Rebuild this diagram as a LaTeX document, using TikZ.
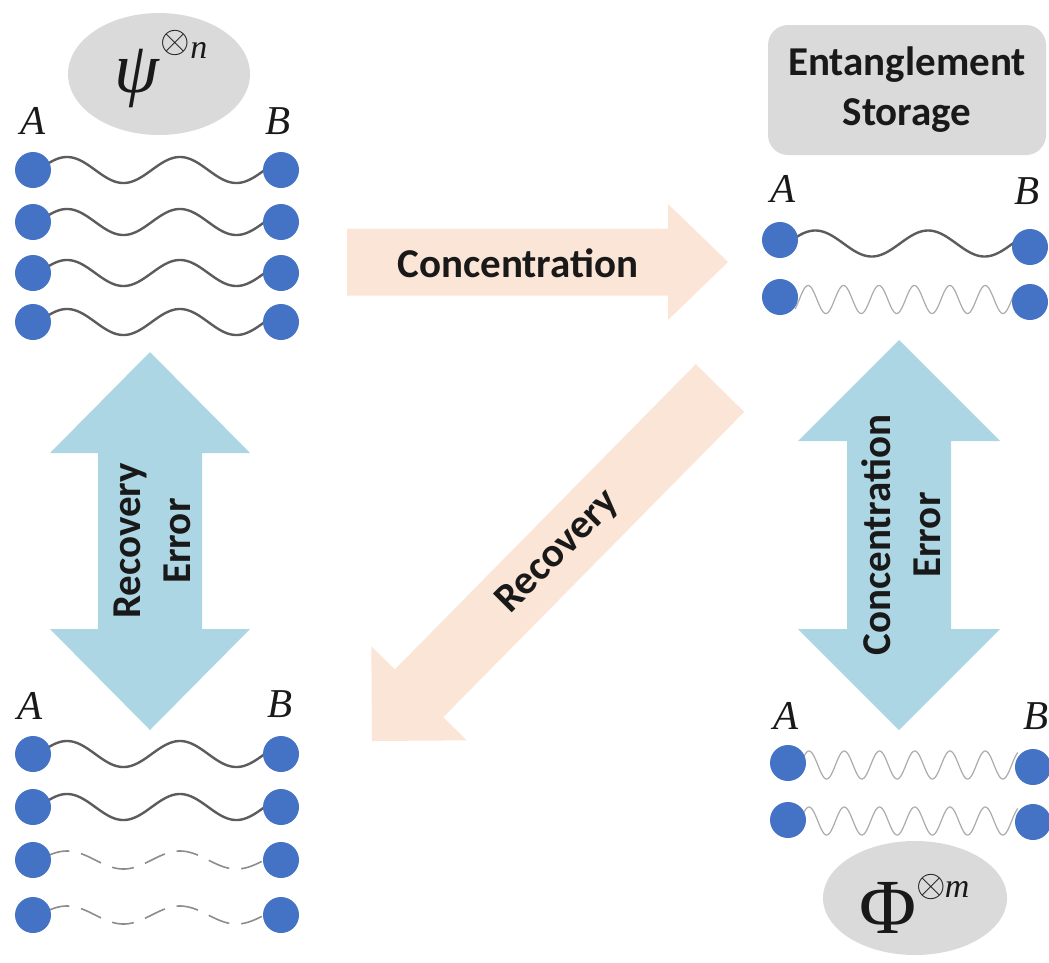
\RequirePackage{fix-cm}
\documentclass[tikz,border=0pt]{standalone}
\usepackage{fontspec}
\setmainfont{Carlito}
\newfontfamily\tms{Liberation Serif}
\usetikzlibrary{calc,shapes.geometric}
\definecolor{dotblue}{RGB}{68,114,196}
\definecolor{peach}{RGB}{251,229,214}
\definecolor{lblue}{RGB}{173,214,228}
\definecolor{shade}{RGB}{218,218,218}
\definecolor{ink}{RGB}{25,25,25}
\pgfdeclarelayer{bg}
\pgfsetlayers{bg,main}
\newcommand\blockarrow[6]{%
  \path ($(#2)!#5!(#1)$) coordinate (bahb);
  \fill[#6] ($(#1)!#3!90:(#2)$) -- ($(bahb)!#3!90:(#2)$) -- ($(bahb)!#4!90:(#2)$) -- (#2)
    -- ($(bahb)!#4!-90:(#2)$) -- ($(bahb)!#3!-90:(#2)$) -- ($(#1)!#3!-90:(#2)$) -- cycle;}
\newcommand\dblarrow[6]{%
  \path ($(#1)!#5!(#2)$) coordinate (dahA) ($(#2)!#5!(#1)$) coordinate (dahB);
  \fill[#6] (#1) -- ($(dahA)!#4!90:(#2)$) -- ($(dahA)!#3!90:(#2)$) -- ($(dahB)!#3!-90:(#1)$)
    -- ($(dahB)!#4!-90:(#1)$) -- (#2) -- ($(dahB)!#4!90:(#1)$) -- ($(dahB)!#3!90:(#1)$)
    -- ($(dahA)!#3!-90:(#2)$) -- ($(dahA)!#4!-90:(#2)$) -- cycle;}
\newcommand\wave[7]{%
  \draw[#1] let \p1=(#2.center), \p2=(#3.center) in
    plot[variable=\t, domain=0:1, samples=240, smooth]
    ({\x1+#7+(\x2-\x1-2*#7)*\t}, {(\y1+\y2)/2+#6*cos(360*(#4*\t-#5))});}
\newcommand\otim[1]{\raisebox{#1}{\fontsize{38}{40}\selectfont$\otimes$}}
\tikzset{
  dot/.style={circle, fill=dotblue, minimum size=36pt, inner sep=0pt},
  strong/.style={draw=black!64, line width=2.4pt},
  faint/.style={draw=black!45, line width=1.6pt, dash pattern=on 22pt off 12pt},
  zig/.style={draw=black!33, line width=1.2pt},
  lbl/.style={text=ink, font=\fontsize{41}{50}\selectfont\bfseries, inner sep=0pt, align=center},
  ablbl/.style={text=ink, font=\tms\itshape\fontsize{41}{46}\selectfont, inner sep=0pt},
  blob/.style={ellipse, fill=shade, inner sep=0pt},
  symlbl/.style={text=ink, inner sep=0pt, anchor=base west, font=\tms},
}
\begin{document}
\begin{tikzpicture}[x=1pt, y=-1pt]
\useasboundingbox (0,0) rectangle (1049,962);

% block arrows
\coordinate (concTail) at (347,262);
\coordinate (concTip) at (728,262);
\coordinate (recTail) at (720,388);
\coordinate (recTip) at (372,741);
\coordinate (lUp) at (150,352);
\coordinate (lDown) at (150,730);
\coordinate (rUp) at (899,340);
\coordinate (rDown) at (899,730);
\blockarrow{concTail}{concTip}{33.5pt}{58pt}{60pt}{peach}
\blockarrow{recTail}{recTip}{34pt}{67pt}{67pt}{peach}
\dblarrow{lUp}{lDown}{52pt}{100pt}{101pt}{lblue}
\dblarrow{rUp}{rDown}{52pt}{101pt}{101pt}{lblue}

\node[lbl] (concLbl) at (518,263) {Concentration};
\node[lbl, rotate=45] (recLbl) at (558,552) {Recovery};
\node[lbl, rotate=90] (lErr) at (152,541) {Recovery\\Error};
\node[lbl, rotate=90] (rErr) at (901,535) {Concentration\\Error};

% top-left group
\node[blob, minimum width=182pt, minimum height=122pt] (psi) at (159,74) {};
\node[symlbl] (psiT) at (114,92)
  {{\itshape\fontsize{72}{74}\selectfont ψ}\kern2pt\otim{40pt}\kern0pt{\itshape\fontsize{34}{36}\selectfont\raisebox{34pt}{n}}};
\node[ablbl] (ltA) at (33,121) {A};
\node[ablbl] (ltB) at (278,121) {B};
\foreach \i/\y in {1/170,2/222,3/273,4/322}{
  \node[dot] (lta\i) at (33,\y) {};
  \node[dot] (ltb\i) at (281,\y) {};
  \begin{pgfonlayer}{bg}
    \wave{strong}{lta\i}{ltb\i}{1.93}{0.168}{13pt}{15pt}
  \end{pgfonlayer}
}

% bottom-left group
\node[ablbl] (lbA) at (30,706) {A};
\node[ablbl] (lbB) at (280,704) {B};
\foreach \i/\y in {1/754,2/807,3/860,4/915}{
  \node[dot] (lba\i) at (33,\y) {};
  \node[dot] (lbb\i) at (281,\y) {};
}
\begin{pgfonlayer}{bg}
  \wave{strong}{lba1}{lbb1}{1.93}{0.168}{13pt}{15pt}
  \wave{strong}{lba2}{lbb2}{1.93}{0.168}{13pt}{15pt}
  \wave{faint}{lba3}{lbb3}{1.93}{0.168}{9pt}{15pt}
  \wave{faint}{lba4}{lbb4}{1.93}{0.168}{9pt}{15pt}
\end{pgfonlayer}

% top-right group
\node[fill=shade, rounded corners=20pt, minimum width=278pt, minimum height=130pt,
  lbl] (store) at (907,90) {Entanglement\\Storage};
\node[ablbl] (rtA) at (783,189) {A};
\node[ablbl] (rtB) at (1027,191) {B};
\node[dot] (rta1) at (780,240) {};
\node[dot] (rtb1) at (1030,247) {};
\node[dot] (rta2) at (780,297) {};
\node[dot] (rtb2) at (1030,302) {};
\begin{pgfonlayer}{bg}
  \wave{strong}{rta1}{rtb1}{1.95}{0.18}{13pt}{15pt}
  \wave{zig}{rta2}{rtb2}{6.21}{0.37}{14pt}{15pt}
\end{pgfonlayer}

% bottom-right group
\node[ablbl] (rbA) at (786,716) {A};
\node[ablbl] (rbB) at (1036,716) {B};
\node[dot] (rba1) at (788,763) {};
\node[dot] (rbb1) at (1033,767) {};
\node[dot] (rba2) at (788,820) {};
\node[dot] (rbb2) at (1033,822) {};
\begin{pgfonlayer}{bg}
  \wave{zig}{rba1}{rbb1}{6.1}{0.17}{14pt}{15pt}
  \wave{zig}{rba2}{rbb2}{6.1}{0.17}{14pt}{15pt}
\end{pgfonlayer}
\node[blob, minimum width=184pt, minimum height=114pt] (phi) at (915,898) {};
\node[symlbl] (phiT) at (859,933)
  {{\fontsize{78}{80}\selectfont Φ}\kern0pt\otim{37pt}\kern-1pt{\itshape\fontsize{34}{36}\selectfont\raisebox{36pt}{m}}};
\end{tikzpicture}
\end{document}
